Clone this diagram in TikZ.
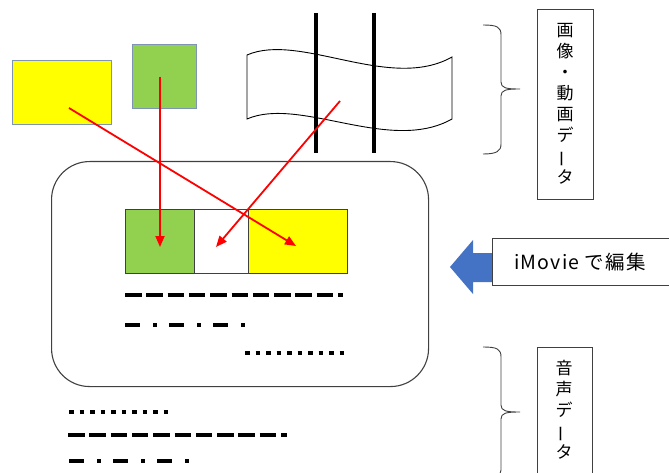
\documentclass[tikz,border=0pt]{standalone}
\usepackage{fontspec}
\setmainfont{Noto Sans CJK JP}
\usetikzlibrary{arrows.meta}

\definecolor{leaf}{HTML}{92D050}
\definecolor{sun}{HTML}{FFFF00}
\definecolor{officeblue}{HTML}{4472C4}
\definecolor{rim}{HTML}{7F93B5}
\definecolor{ink}{HTML}{404040}

\tikzset{
  block/.style={draw=rim, line width=0.9pt, inner sep=0pt, anchor=north west},
  slotbox/.style={draw=ink, line width=1pt, inner sep=0pt, anchor=north west},
  tag/.style={draw=ink, line width=1pt, inner sep=0pt, anchor=north west, fill=white},
  vtext/.style={align=center, inner sep=0pt, font=\fontsize{17}{21}\selectfont},
  bracket/.style={draw=ink, line width=0.9pt},
  pole/.style={line width=3.6pt, black},
  redarrow/.style={draw=red, line width=1.8pt, -{Triangle[length=11pt,width=9pt]}},
  longdash/.style={line width=4.5pt, dash pattern=on 16.5pt off 4.8pt},
  dashdotline/.style={line width=3.6pt, dash pattern=on 15pt off 13pt on 3.5pt off 12.5pt},
  dotline/.style={line width=4.5pt, dash pattern=on 4.5pt off 6pt},
}

\begin{document}
\begin{tikzpicture}[x=1pt, y=-1pt]
  \useasboundingbox (0,0) rectangle (669,473);
  \clip (0,0) rectangle (669,473);

  % source media: still image, photo and film strip
  \node[block, fill=sun, minimum width=99pt, minimum height=64pt] (photoA) at (12,60) {};
  \node[block, fill=leaf, minimum width=64pt, minimum height=64pt] (photoB) at (132,44) {};

  \draw[black, line width=0.9pt]
    (247,55) .. controls (300,32) and (390,92) .. (452,57)
    -- (452,119)
    .. controls (390,154) and (300,96) .. (247,119) -- cycle;
  \draw[pole] (316,13) -- (316,153);
  \draw[pole] (374,13) -- (374,153);

  % editing screen
  \node[draw=ink, line width=1.1pt, rounded corners=38pt, anchor=north west,
        minimum width=377pt, minimum height=225pt, inner sep=0pt] (screen) at (51,161) {};
  \node[slotbox, fill=leaf, minimum width=69pt, minimum height=64pt] (slotA) at (125,209) {};
  \node[slotbox, fill=white, minimum width=54pt, minimum height=64pt] (slotB) at (194,209) {};
  \node[slotbox, fill=sun, minimum width=99pt, minimum height=64pt] (slotC) at (248,209) {};

  % audio tracks inside the screen
  \draw[longdash] (125,295) -- (343,295);
  \draw[dashdotline] (125,325) -- (246,325);
  \draw[dotline] (245,353) -- (345,353);

  % raw audio tracks
  \draw[dotline] (69,412) -- (170,412);
  \draw[longdash] (68,435) -- (287,435);
  \draw[dashdotline] (69,461) -- (190,461);

  % braces and captions on the right
  \draw[bracket] (483,25) .. controls (497,25) and (501,27) .. (501,35)
    -- (501,82) .. controls (501,88) and (506,89) .. (520,89)
    .. controls (506,89) and (501,90) .. (501,96)
    -- (501,144) .. controls (501,151) and (497,154) .. (483,154);
  \node[tag, minimum width=56pt, minimum height=190pt] (mediabox) at (537,9) {};
  \node[vtext] (medialabel) at (565,104)
    {画\\像\\・\\動\\画\\デ\\\rotatebox[origin=c]{90}{ー}\\タ};

  \draw[bracket] (483,347) .. controls (497,347) and (501,349) .. (501,357)
    -- (501,405) .. controls (501,411) and (506,412) .. (520,412)
    .. controls (506,412) and (501,413) .. (501,419)
    -- (501,470) .. controls (501,475) and (497,477) .. (483,477);
  \node[tag, minimum width=55pt, minimum height=140pt] (audiobox) at (537,347) {};
  \node[vtext] (audiolabel) at (564,410)
    {音\\声\\デ\\\rotatebox[origin=c]{90}{ー}\\タ};

  % edit step
  \fill[officeblue] (450,267) -- (473,240) -- (473,253) -- (512,253)
    -- (512,282) -- (473,282) -- (473,294) -- cycle;
  \node[tag, minimum width=190pt, minimum height=47pt] (editbox) at (492,238) {};
  \node[inner sep=0pt, font=\fontsize{19.5}{22}\selectfont\addfontfeature{LetterSpace=6}]
    (editlabel) at (580,262) {iMovie で編集};

  % placement of the media on the timeline
  \coordinate (fromA) at (69,108);
  \coordinate (toA) at (296,246);
  \coordinate (fromB) at (160,77);
  \coordinate (toB) at (160,247);
  \coordinate (fromFilm) at (340,101);
  \coordinate (toFilm) at (216,247);
  \draw[redarrow] (fromA) -- (toA);
  \draw[redarrow] (fromB) -- (toB);
  \draw[redarrow] (fromFilm) -- (toFilm);
\end{tikzpicture}
\end{document}
